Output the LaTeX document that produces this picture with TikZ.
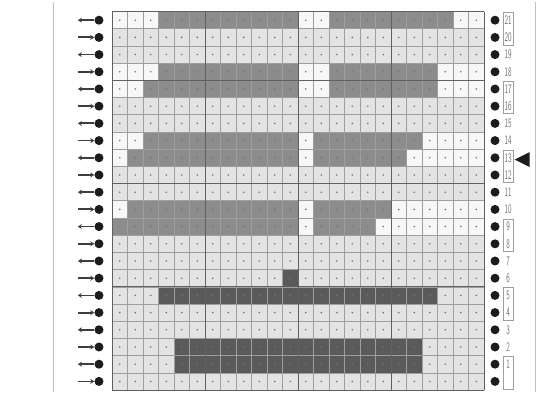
\documentclass[tikz,border=0pt]{standalone}
\usetikzlibrary{arrows.meta,shapes.geometric}
\definecolor{Ink}{HTML}{1C1C1C}
\definecolor{Cell}{HTML}{E3E3E3}
\definecolor{Pale}{HTML}{F7F7F7}
\definecolor{Shade}{HTML}{8C8C8C}
\definecolor{Deep}{HTML}{5A5A5A}
\definecolor{Rule}{HTML}{9E9E9E}
\definecolor{Label}{HTML}{6E6E6E}
\newcommand{\rowno}[1]{\scalebox{0.55}[1]{\fontsize{13}{13}\selectfont #1}}
\tikzset{
  stitch/.style={circle, fill=Ink, minimum size=9pt, inner sep=0pt},
  rowarrow/.style={-{Stealth[length=4pt,width=5pt]}, line width=1.8pt, draw=Ink!85},
  rowlabel/.style={font=\sffamily, text=Label, inner sep=0pt},
  numbox/.style={draw=Rule, line width=0.7pt},
  minorline/.style={draw=Rule, line width=0.6pt},
  majorline/.style={draw=Ink!70, line width=0.9pt},
  pointer/.style={isosceles triangle, shape border rotate=180, fill=Ink,
    minimum height=15pt, minimum width=15pt, inner sep=0pt, isosceles triangle stretches},
  pageline/.style={draw=black!25, line width=0.8pt}
}
\begin{document}
\begin{tikzpicture}
  \useasboundingbox (0,0) rectangle (541pt,394pt);
  \fill[white] (0,0) rectangle (541pt,394pt);
  \draw[pageline] (53pt,2pt) -- (53pt,392pt);
  \draw[pageline] (535pt,2pt) -- (535pt,392pt);
  \begin{scope}[shift={(112pt,4pt)}, x=15.5pt, y=17.2pt]
    \fill[Cell] (0,0) rectangle (24,22);
    \foreach \r/\a/\b in {21/1/3, 21/13/14, 21/23/24, 18/1/3, 18/13/14, 18/22/24,
        17/1/2, 17/13/14, 17/22/24, 14/1/2, 14/13/13, 14/21/24, 13/1/1, 13/13/13,
        13/20/24, 10/1/1, 10/13/13, 10/19/24, 9/13/13, 9/18/24}
      \fill[Pale] (\a-1,\r) rectangle (\b,\r+1);
    \foreach \r/\a/\b in {21/4/12, 21/15/22, 18/4/12, 18/15/21, 17/3/12, 17/15/21,
        14/3/12, 14/14/20, 13/2/12, 13/14/19, 10/2/12, 10/14/18, 9/1/12, 9/14/17}
      \fill[Shade] (\a-1,\r) rectangle (\b,\r+1);
    \foreach \r/\a/\b in {6/12/12, 5/4/21, 2/5/20, 1/5/20}
      \fill[Deep] (\a-1,\r) rectangle (\b,\r+1);
    \foreach \c in {1,...,24}
      \foreach \r in {0,...,21}
        \fill[black!55] (\c-0.5,\r+0.5) circle (0.9pt);
    \foreach \c in {0,...,24}
      \draw[minorline] (\c,0) -- (\c,22);
    \foreach \r in {0,...,22}
      \draw[minorline] (0,\r) -- (24,\r);
    \foreach \c in {0,6,...,24}
      \draw[majorline] (\c,0) -- (\c,22);
    \foreach \r in {0,6,12,18,22}
      \draw[majorline] (0,\r) -- (24,\r);
    \foreach \k in {0,...,21}{
      \node[stitch] (ldot\k) at (-0.84,\k+0.5) {};
      \coordinate (ltail\k) at (-2.2,\k+0.5);
      \node[stitch] (rdot\k) at (24.71,\k+0.5) {};
    }
    \foreach \k in {1,3,...,21}
      \draw[rowarrow] (ldot\k) -- (ltail\k);
    \foreach \k in {0,2,...,20}
      \draw[rowarrow] (ltail\k) -- (ldot\k);
    \foreach \k in {1,...,21}
      \node[rowlabel] (num\k) at (25.55,\k+0.5) {\rowno{\k}};
    \foreach \k in {0,4,...,20}
      \draw[numbox] (25.22,\k+0.06) rectangle (25.88,\k+1.94);
    \node[pointer] (mark) at (26.65,13.4) {};
  \end{scope}
\end{tikzpicture}
\end{document}
